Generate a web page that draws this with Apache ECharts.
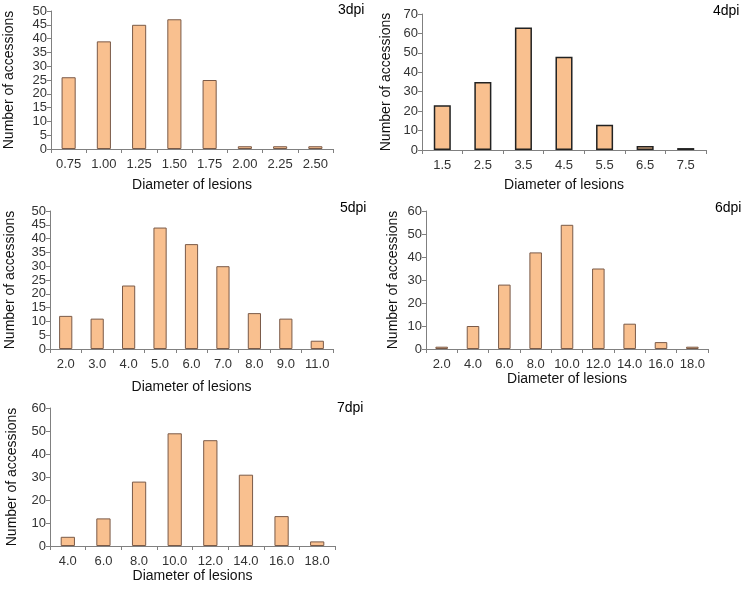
<!DOCTYPE html>
<html>
<head>
<meta charset="utf-8">
<script src="https://cdn.jsdelivr.net/npm/echarts@6/dist/echarts.min.js"></script>
<style>html,body{margin:0;padding:0;background:#fff}#c{width:745px;height:589px}</style>
</head>
<body>
<div id="c"></div>
<script>
var cats3 = ['0.75','1.00','1.25','1.50','1.75','2.00','2.25','2.50'];
var vals3 = [26, 39, 45, 47, 25, 1, 1, 1];
var cats4 = ['1.5','2.5','3.5','4.5','5.5','6.5','7.5'];
var vals4 = [23, 35, 63, 48, 13, 2, 1];
var cats5 = ['2.0','3.0','4.0','5.0','6.0','7.0','8.0','9.0','11.0'];
var vals5 = [12, 11, 23, 44, 38, 30, 13, 11, 3];
var cats6 = ['2.0','4.0','6.0','8.0','10.0','12.0','14.0','16.0','18.0'];
var vals6 = [1, 10, 28, 42, 54, 35, 11, 3, 1];
var cats7 = ['4.0','6.0','8.0','10.0','12.0','14.0','16.0','18.0'];
var vals7 = [4, 12, 28, 49, 46, 31, 13, 2];
var titles = ['3dpi','4dpi','5dpi','6dpi','7dpi'];
var yMax = [50, 70, 50, 60, 60];
var yStep = [5, 10, 5, 10, 10];

var FONT = 'Liberation Sans, Arial, sans-serif';
var panels = [
  {cats: cats3, vals: vals3, grid: {left: 51, top: 11, right: 412, bottom: 440}, title: [338, 3], yGap: 35, xGap: 29, bw: '40%', border: '#7a5a48', bwid: 1},
  {cats: cats4, vals: vals4, grid: {left: 422, top: 14, right: 39, bottom: 439}, title: [713, 4], yGap: 29, xGap: 28, bw: '42%', border: '#222', bwid: 1.5},
  {cats: cats5, vals: vals5, grid: {left: 50, top: 211, right: 412, bottom: 240}, title: [340, 201], yGap: 33, xGap: 31, bw: '42%', border: '#7a5a48', bwid: 1},
  {cats: cats6, vals: vals6, grid: {left: 426, top: 211, right: 37, bottom: 240}, title: [715, 201], yGap: 26, xGap: 17, bw: '40%', border: '#7a5a48', bwid: 1},
  {cats: cats7, vals: vals7, grid: {left: 50, top: 408, right: 410, bottom: 43}, title: [337, 401], yGap: 31, xGap: 20, bw: '40%', border: '#7a5a48', bwid: 1}
];

var option = {backgroundColor: '#fff', animation: false, title: [], grid: [], xAxis: [], yAxis: [], series: []};
panels.forEach(function (p, i) {
  option.title.push({text: titles[i], left: p.title[0], top: p.title[1], padding: 0,
    textStyle: {fontFamily: FONT, fontSize: 14, fontWeight: 'normal', color: '#000'}});
  option.grid.push(Object.assign({containLabel: false}, p.grid));
  option.xAxis.push({type: 'category', gridIndex: i, data: p.cats,
    name: 'Diameter of lesions', nameLocation: 'middle', nameGap: p.xGap,
    nameTextStyle: {fontFamily: FONT, fontSize: 14, color: '#111'},
    axisLine: {lineStyle: {color: '#808080', width: 1}},
    axisTick: {show: true, length: 4, lineStyle: {color: '#808080'}},
    axisLabel: {fontFamily: FONT, fontSize: 13, color: '#333', margin: 9, interval: 0},
    splitLine: {show: false}});
  option.yAxis.push({type: 'value', gridIndex: i, min: 0, max: yMax[i], interval: yStep[i],
    name: 'Number of accessions', nameLocation: 'middle', nameGap: p.yGap,
    nameTextStyle: {fontFamily: FONT, fontSize: 14, color: '#111'},
    axisLine: {show: true, lineStyle: {color: '#808080', width: 1}},
    axisTick: {show: true, length: 4, lineStyle: {color: '#808080'}},
    axisLabel: {fontFamily: FONT, fontSize: 13, color: '#333', margin: 4},
    splitLine: {show: false}});
  option.series.push({type: 'bar', xAxisIndex: i, yAxisIndex: i, data: p.vals, barWidth: p.bw,
    itemStyle: {color: '#F9C08F', borderColor: p.border, borderWidth: p.bwid}});
});
echarts.init(document.getElementById('c'), null, {renderer: 'canvas'}).setOption(option);
</script>
</body>
</html>
